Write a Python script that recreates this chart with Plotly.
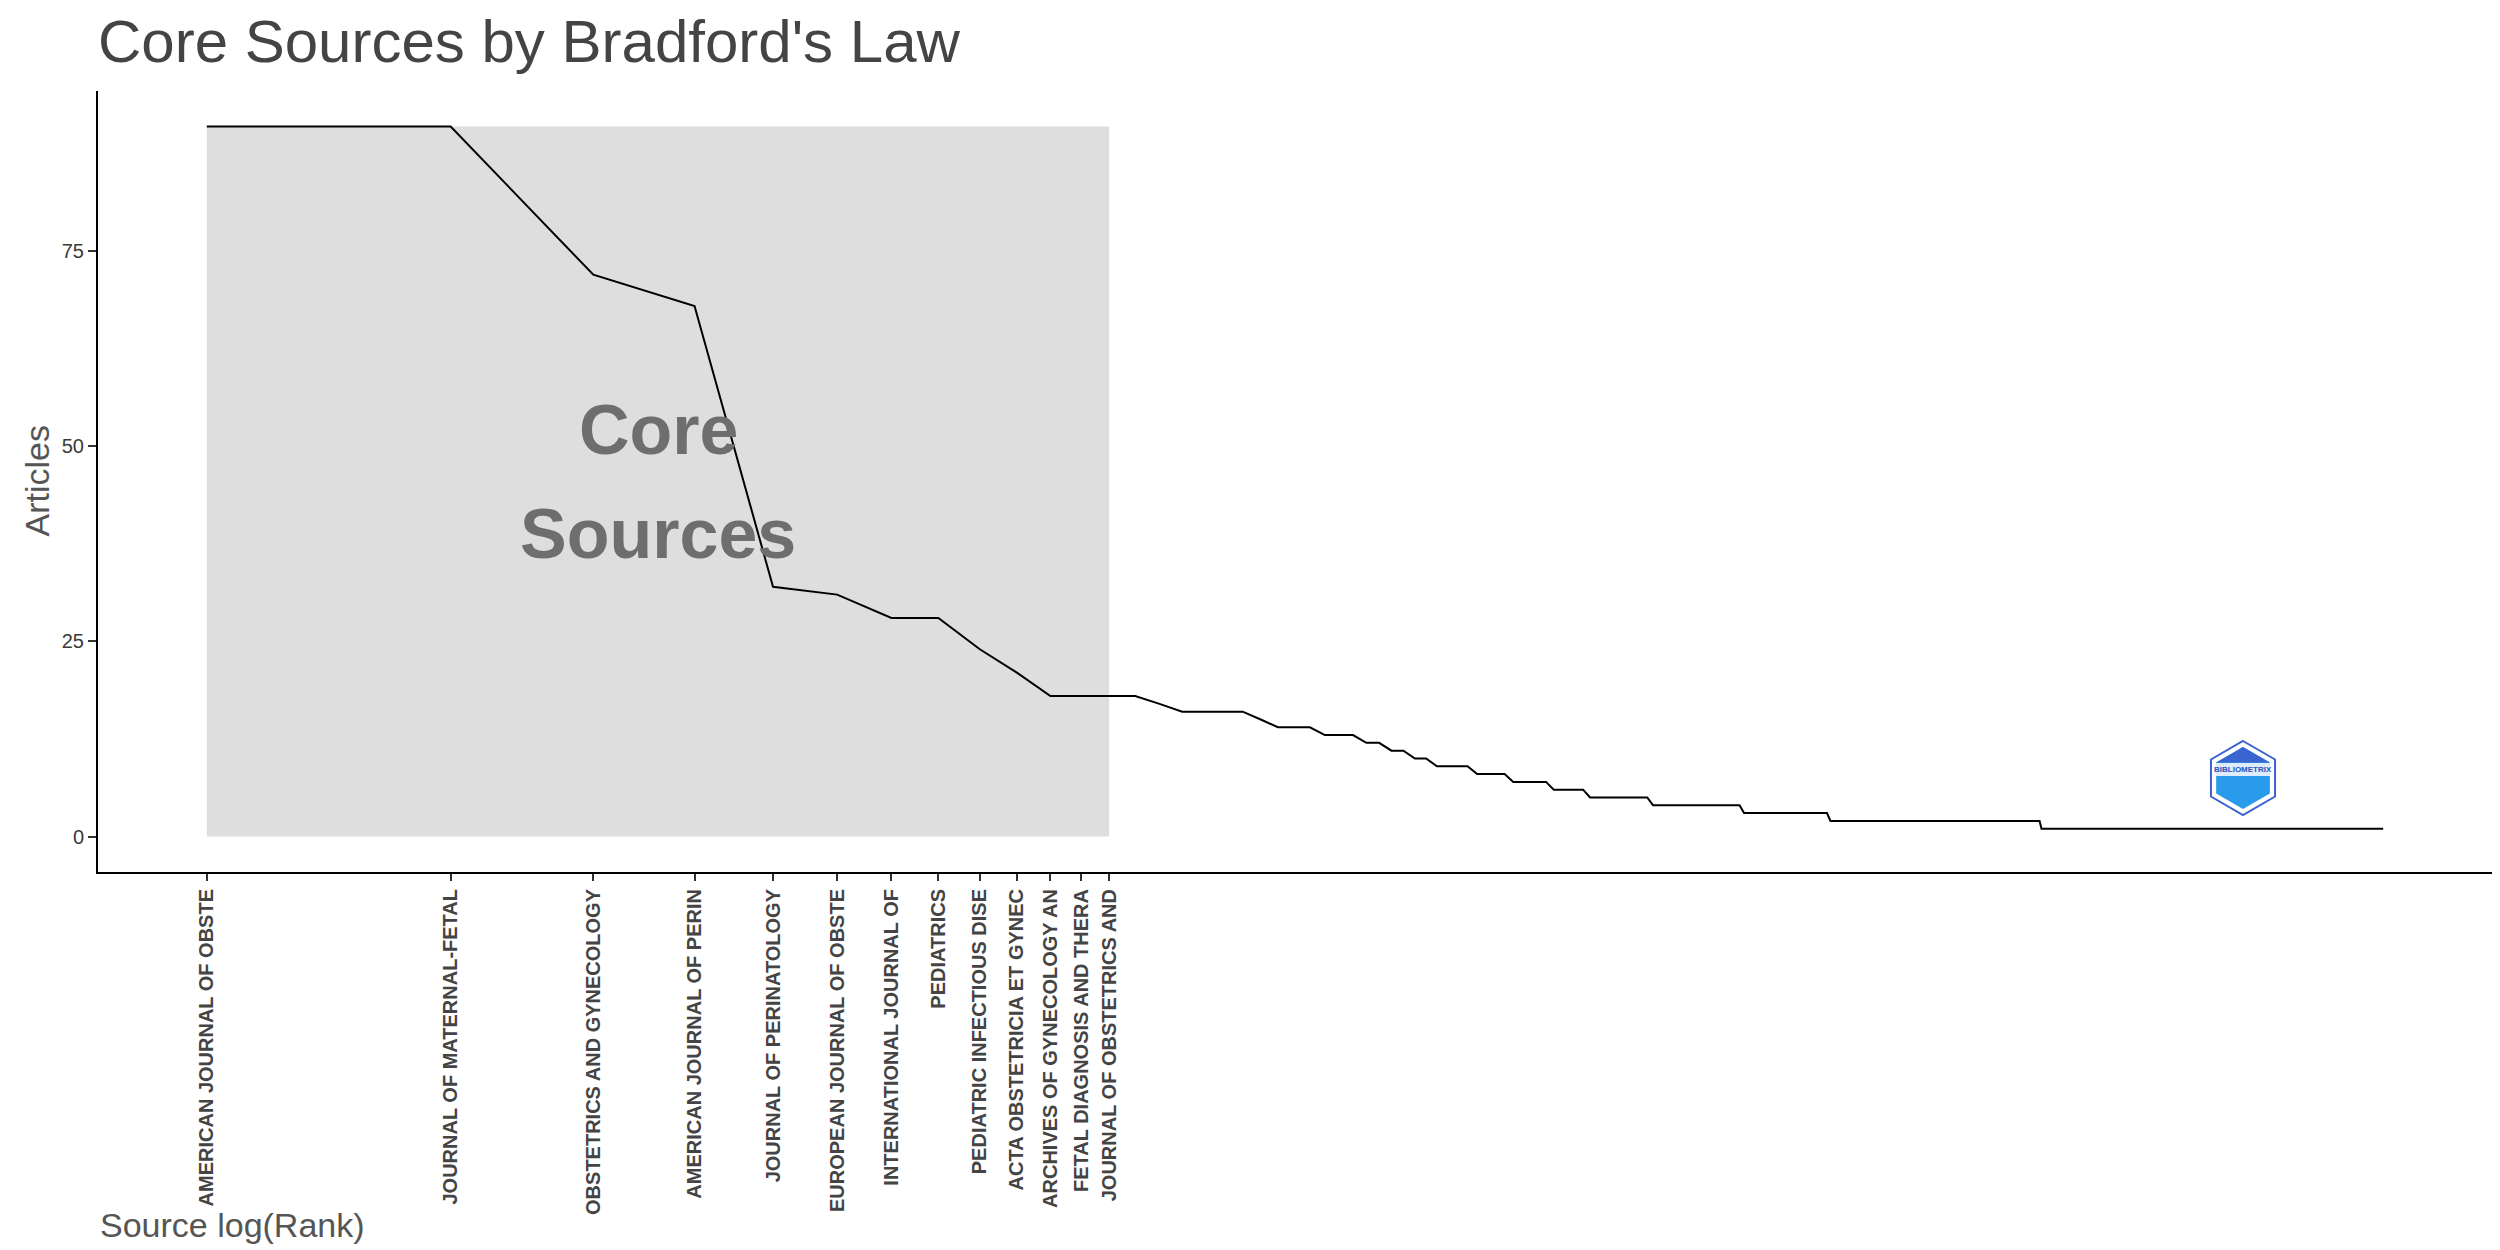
import numpy as np
import plotly.graph_objects as go

# ---------------- data ----------------
core_sources = [
    "AMERICAN JOURNAL OF OBSTE",
    "JOURNAL OF MATERNAL-FETAL",
    "OBSTETRICS AND GYNECOLOGY",
    "AMERICAN JOURNAL OF PERIN",
    "JOURNAL OF PERINATOLOGY",
    "EUROPEAN JOURNAL OF OBSTE",
    "INTERNATIONAL JOURNAL OF",
    "PEDIATRICS",
    "PEDIATRIC INFECTIOUS DISE",
    "ACTA OBSTETRICIA ET GYNEC",
    "ARCHIVES OF GYNECOLOGY AN",
    "FETAL DIAGNOSIS AND THERA",
    "JOURNAL OF OBSTETRICS AND",
]
# articles per source (frequency levels) and how many sources share each level,
# in rank order
freq_levels = [91, 72, 68, 32, 31, 28, 24, 21, 18, 17, 16, 15, 14, 13, 12, 11,
               10, 9, 8, 7, 6, 5, 4, 3, 2, 1]
sources_per_level = [2, 1, 1, 1, 1, 2, 1, 1, 4, 1, 4, 1, 3, 3, 2, 2,
                     2, 4, 4, 5, 5, 10, 18, 22, 83, 303]
y_ticks = [0, 25, 50, 75]

# ---------------- derived ----------------
freq = np.repeat(freq_levels, sources_per_level)
rank = np.arange(1, len(freq) + 1)
log_rank = np.log(rank)
n_core = len(core_sources)
xmax = log_rank.max()
ymax = freq.max()

# layout geometry (pixels)
W, H = 2500, 1250
ML, MR, MT, MB = 90, 16, 83, 386
PW, PH = W - ML - MR, H - MT - MB


def pp(px, py):
    return (px - ML) / PW, (H - MB - py) / PH


fig = go.Figure()

# core zone rectangle
fig.add_shape(type="rect", xref="x", yref="y",
              x0=log_rank[0], x1=np.log(n_core), y0=0, y1=ymax,
              fillcolor="#DEDEDE", line_width=0, layer="below")

fig.add_trace(go.Scatter(x=log_rank, y=freq, mode="lines",
                         line=dict(color="black", width=2),
                         showlegend=False, hoverinfo="skip"))

# "Core Sources" label
mid_x = np.log(n_core) / 2
for txt, shift in (("Core", 52), ("Sources", -52)):
    fig.add_annotation(x=mid_x, y=ymax / 2, xref="x", yref="y", text=txt,
                       showarrow=False, yshift=shift, xanchor="center",
                       font=dict(family="Liberation Sans", size=70,
                                 color="#6E6E6E", weight="bold"))

# bibliometrix-like logo
cx, cy, r = 2235, 770, 37
hw = r * np.sqrt(3) / 2


def hexpath(cx, cy, r):
    hw = r * np.sqrt(3) / 2
    pts = [(cx, cy - r), (cx + hw, cy - r / 2), (cx + hw, cy + r / 2),
           (cx, cy + r), (cx - hw, cy + r / 2), (cx - hw, cy - r / 2)]
    pts = [pp(*p) for p in pts]
    return "M " + " L ".join(f"{a},{b}" for a, b in pts) + " Z"


def tripath(cx, cy, r):
    hw = r * np.sqrt(3) / 2
    pts = [(cx, cy - r), (cx + hw, cy - r / 2), (cx - hw, cy - r / 2)]
    pts = [pp(*p) for p in pts]
    return "M " + " L ".join(f"{a},{b}" for a, b in pts) + " Z"


fig.add_shape(type="path", xref="paper", yref="paper", path=hexpath(cx, cy, r),
              fillcolor="white", line=dict(color="#3A62D0", width=2))
fig.add_shape(type="path", xref="paper", yref="paper", path=hexpath(cx, cy, r - 6),
              fillcolor="#2A9BEA", line_width=0)
fig.add_shape(type="path", xref="paper", yref="paper", path=tripath(cx, cy, r - 6),
              fillcolor="#3A66D2", line_width=0)
x0b, y0b = pp(cx - hw + 5, cy - 2)
x1b, y1b = pp(cx + hw - 5, cy - 15)
fig.add_shape(type="rect", xref="paper", yref="paper", x0=x0b, x1=x1b,
              y0=y0b, y1=y1b, fillcolor="#DDEBFA", line_width=0)
lx, ly = pp(cx, cy - 8.5)
fig.add_annotation(x=lx, y=ly, xref="paper", yref="paper", text="BIBLIOMETRIX",
                   showarrow=False, xanchor="center", yanchor="middle",
                   font=dict(family="Liberation Sans", size=8,
                             color="#2356C0", weight="bold"))

# title and axis titles
fig.update_layout(
    title=dict(text="Core Sources by Bradford's Law", x=ML / W, xanchor="left",
               xref="container", y=1 - 12 / H, yanchor="top", yref="container",
               font=dict(family="Liberation Sans", size=60, color="#444444")),
)
fig.add_annotation(x=0, y=pp(0, 1238)[1], xref="paper", yref="paper",
                   text="Source log(Rank)", showarrow=False, xanchor="left",
                   yanchor="bottom",
                   font=dict(family="Liberation Sans", size=34, color="#555555"))
fig.add_annotation(x=pp(28, 0)[0], y=0.5, xref="paper", yref="paper",
                   text="Articles", showarrow=False, textangle=-90,
                   xanchor="center", yanchor="middle",
                   font=dict(family="Liberation Sans", size=34, color="#555555"))

fig.update_xaxes(range=[-0.05 * xmax, 1.05 * xmax],
                 tickmode="array", tickvals=log_rank[:n_core], ticktext=core_sources,
                 tickangle=-90, ticks="outside", ticklen=7, tickwidth=1.5,
                 tickcolor="#333333",
                 tickfont=dict(family="Liberation Sans", size=20,
                               color="#444444", weight="bold"),
                 showline=True, linecolor="black", linewidth=2,
                 showgrid=False, zeroline=False)
fig.update_yaxes(range=[-0.05 * ymax, 1.05 * ymax], tickvals=y_ticks,
                 ticks="outside", ticklen=8, tickwidth=1.5, tickcolor="#333333",
                 tickfont=dict(family="Liberation Sans", size=20, color="#3A3A3A"),
                 showline=True, linecolor="black", linewidth=2,
                 showgrid=False, zeroline=False)

fig.update_layout(width=W, height=H, margin=dict(l=ML, r=MR, t=MT, b=MB, autoexpand=False),
                  plot_bgcolor="white", paper_bgcolor="white", showlegend=False)

fig.write_html("out.html")
